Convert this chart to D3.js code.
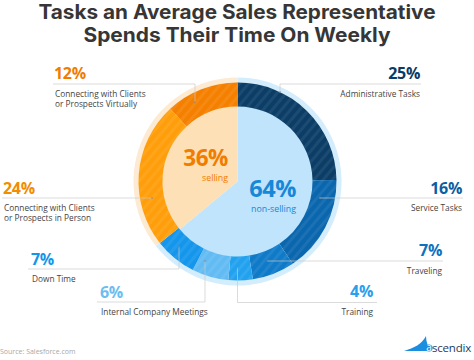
<!DOCTYPE html>
<html><head><meta charset="utf-8">
<script src="https://cdn.jsdelivr.net/npm/d3@7"></script>
<style>body{margin:0;background:#fff}svg{display:block}</style>
</head><body><script>
// ---------- data ----------
const categories = ["Administrative Tasks","Service Tasks","Traveling","Training","Internal Company Meetings","Down Time","Connecting with Clients or Prospects in Person","Connecting with Clients or Prospects Virtually"];
const values = [25,16,7,4,6,7,24,12];
const descLines = [["Administrative Tasks"],["Service Tasks"],["Traveling"],["Training"],["Internal Company Meetings"],["Down Time"],["Connecting with Clients","or Prospects in Person"],["Connecting with Clients","or Prospects Virtually"]];
const categoryGroup = ["non-selling","non-selling","non-selling","non-selling","non-selling","non-selling","selling","selling"];
const groupNames = ["non-selling","selling"];
const groupValues = [64,36];
const titleLines = ["Tasks an Average Sales Representative","Spends Their Time On Weekly"];
const sourceText = "Source: Salesforce.com";

// ---------- styles / layout ----------
const W = 474, H = 360;
const cx = 237.5, cy = 181.5, rIn = 75, rOut = 99, rHalo = 104;
const ringColors = ["#0b3d66","#0a66ad","#0f7ac8","#22a1ef","#62bbf3","#1496ec","#ff9e0a","#f58000"];
const pctColors  = ["#0b3a63","#0a5ea3","#0d72c0","#28a0ee","#6cbdf0","#1496e8","#f28c00","#f07c00"];
const innerColors = {"non-selling":"#bfe4fb","selling":"#fde0b6"};
const haloColors = {"non-selling":"#d4edfc","selling":"#fdead2"};
const centerColors = {"non-selling":"#1688d8","selling":"#f07c00"};
// label layout: text x, anchor, pct baseline, line y, line outer x, leader type, leader coord, anchor radius
const layout = [
  {x:420, a:"end",   py:79,  ly:84,  lx:421, type:"v", v:280, r:99},
  {x:462, a:"end",   py:194, ly:198, lx:463, type:"h", r:84},
  {x:442, a:"end",   py:256, ly:261, lx:443, type:"h", r:85},
  {x:373, a:"end",   py:297, ly:302.5, lx:377, type:"v", v:237.5, r:86},
  {x:100, a:"start", py:298, ly:302, lx:97,  type:"v", v:205, r:86},
  {x:31,  a:"start", py:265, ly:269, lx:28,  type:"v", v:179, r:88},
  {x:3,   a:"start", py:194, ly:198, lx:2,   type:"h", r:87},
  {x:54,  a:"start", py:79,  ly:84,  lx:53,  type:"v", v:195, r:90}
];

const svg = d3.select("body").append("svg").attr("width",W).attr("height",H)
  .style("font-family","'Open Sans', sans-serif");

// stripes pattern
const defs = svg.append("defs");
const pat = defs.append("pattern").attr("id","stripes").attr("patternUnits","userSpaceOnUse")
  .attr("width",7).attr("height",7).attr("patternTransform","rotate(40)");
pat.append("rect").attr("width",3).attr("height",7).attr("fill","#fff").attr("opacity",0.07);

// title
svg.append("g").selectAll("text").data(titleLines).join("text")
  .attr("x",W/2).attr("y",(d,i)=>18.5+i*23)
  .attr("text-anchor","middle")
  .attr("font-family","Inter, 'Open Sans', sans-serif")
  .attr("font-weight",700).attr("font-size",20).attr("fill","#363636")
  .attr("textLength",(d,i)=>i===0?397:307).attr("lengthAdjust","spacingAndGlyphs")
  .text(d=>d);

const g = svg.append("g").attr("transform",`translate(${cx},${cy})`);
const pie = d3.pie().sort(null).startAngle(0).endAngle(2*Math.PI);
const ringData = pie(values);

// halo, by group, following ring angles
const groupArcs = groupNames.map(gn=>{
  const idx = categoryGroup.map((c,i)=>c===gn?i:-1).filter(i=>i>=0);
  return {group:gn, startAngle:d3.min(idx,i=>ringData[i].startAngle), endAngle:d3.max(idx,i=>ringData[i].endAngle)};
});
const haloArc = d3.arc().innerRadius(rOut-1).outerRadius(rHalo);
g.selectAll("path.halo").data(groupArcs).join("path").attr("class","halo")
  .attr("d",haloArc).attr("fill",d=>haloColors[d.group]);

// inner pie
const innerData = pie(groupValues);
const innerArc = d3.arc().innerRadius(0).outerRadius(rIn+0.5);
g.selectAll("path.inner").data(innerData).join("path").attr("class","inner")
  .attr("d",innerArc).attr("fill",(d,i)=>innerColors[groupNames[i]]);

// ring
const ringArc = d3.arc().innerRadius(rIn).outerRadius(rOut);
g.selectAll("path.ring").data(ringData).join("path").attr("class","ring")
  .attr("d",ringArc).attr("fill",(d,i)=>ringColors[i]);
g.selectAll("path.ringp").data(ringData).join("path").attr("class","ringp")
  .attr("d",ringArc).attr("fill","url(#stripes)");

// center labels
const centerLayout = {"selling":{x:228,y:166,sy:181,fs:22.5,sfs:8.8},"non-selling":{x:296,y:196.5,sy:211.5,fs:23.5,sfs:8.8}};
groupNames.forEach((gn,i)=>{
  const L = centerLayout[gn];
  svg.append("text").attr("x",L.x).attr("y",L.y).attr("text-anchor","end")
    .attr("font-weight",700).attr("font-size",L.fs).attr("fill",centerColors[gn])
    .attr("letter-spacing",-0.4).text(groupValues[i]+"%");
  svg.append("text").attr("x",L.x).attr("y",L.sy).attr("text-anchor","end")
    .attr("font-size",L.sfs).attr("fill",centerColors[gn]).text(gn);
});

// leaders and labels
const lg = svg.append("g");
ringData.forEach((d,i)=>{
  const L = layout[i];
  let ax, ay, pts;
  if (L.type==="v") {
    ax = L.v;
    const dx = ax-cx;
    const dy = Math.sqrt(L.r*L.r-dx*dx);
    ay = L.ly < cy ? cy-dy : cy+dy;
    pts = [[L.lx,L.ly],[ax,L.ly],[ax,ay]];
  } else {
    ay = L.ly;
    const dy = ay-cy;
    const dx = Math.sqrt(L.r*L.r-dy*dy);
    ax = L.a==="end" ? cx+dx : cx-dx;
    pts = [[L.lx,L.ly],[ax,ay]];
  }
  lg.append("path").attr("d",d3.line()(pts)).attr("fill","none")
    .attr("stroke","#c9c9c9").attr("stroke-opacity",0.85).attr("stroke-width",0.8);
  lg.append("circle").attr("cx",ax).attr("cy",ay).attr("r",1.1).attr("fill","#8a8a8a").attr("opacity",0.6);
  lg.append("text").attr("x",L.x).attr("y",L.py).attr("text-anchor",L.a)
    .attr("font-weight",700).attr("font-size",16).attr("fill",pctColors[i])
    .attr("letter-spacing",-0.3).text(values[i]+"%");
  descLines[i].forEach((t,j)=>{
    lg.append("text").attr("x",L.x + (L.a==="start"?1:0)).attr("y",L.ly+12.5+j*10.8).attr("text-anchor",L.a)
      .attr("font-size",8.3).attr("fill","#444").text(t);
  });
});

// source
svg.append("text").attr("x",0).attr("y",354).attr("font-size",7).attr("fill","#a8a8a8").text(sourceText);

// logo
const logo = svg.append("g");
logo.append("path").attr("d","M404,351 C414,348 422,344 426,336 C426,342 428,347 431,351 Z").attr("fill","#1c8ee0");
logo.append("circle").attr("cx",429).attr("cy",348).attr("r",3.6).attr("fill","#1c8ee0");
logo.append("text").attr("x",429).attr("y",351).attr("text-anchor","middle").attr("font-size",10).attr("fill","#fff").text("a");
logo.append("text").attr("x",432).attr("y",351.5).attr("font-size",11.5).attr("fill","#1c3b5e").attr("letter-spacing",-0.2).text("scendix");
</script></body></html>
